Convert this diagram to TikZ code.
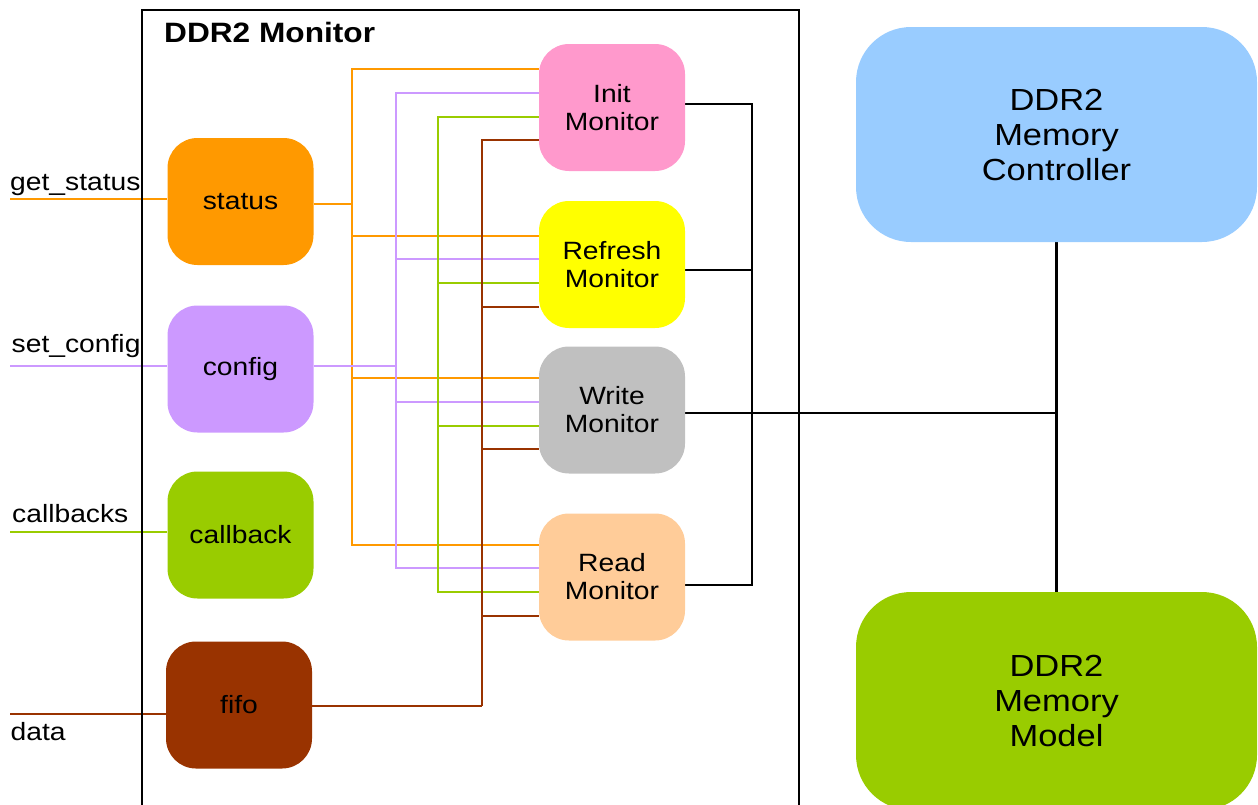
\documentclass[tikz,border=0pt]{standalone}
\usepackage{fontspec}
\setmainfont[FakeStretch=1.13]{Liberation Sans}
\usetikzlibrary{backgrounds}
\definecolor{cor}{HTML}{FF9900}
\definecolor{cpu}{HTML}{CC99FF}
\definecolor{cgr}{HTML}{99CC00}
\definecolor{cbr}{HTML}{993300}
\definecolor{cpk}{HTML}{FF99CC}
\definecolor{cye}{HTML}{FFFF00}
\definecolor{cgy}{HTML}{C0C0C0}
\definecolor{cpe}{HTML}{FFCC99}
\definecolor{cbl}{HTML}{99CCFF}
\begin{document}
\begin{tikzpicture}[x=1pt,y=-1pt,
  blk/.style={rectangle, rounded corners=30pt, minimum width=146pt, minimum height=127pt, inner sep=0pt, align=center, font=\fontsize{25}{28}\selectfont},
  big/.style={rectangle, rounded corners=55pt, minimum width=401pt, inner sep=0pt, align=center, font=\fontsize{30.5}{35}\selectfont},
  lbl/.style={anchor=base west, inner sep=0pt, font=\fontsize{25}{28}\selectfont},
  wire/.style={line width=2.4pt},
  kwire/.style={line width=2.7pt, draw=black},
  frame/.style={line width=2.7pt, draw=black}]
\useasboundingbox (0,0) rectangle (1258,804);
\clip (0,0) rectangle (1258,804);

% bus coordinates
\coordinate (o1) at (352,69);  \coordinate (o2) at (352,236); \coordinate (o3) at (352,378); \coordinate (o4) at (352,545); \coordinate (os) at (352,204);
\coordinate (p1) at (396,93);  \coordinate (p2) at (396,259); \coordinate (p3) at (396,402); \coordinate (p4) at (396,568); \coordinate (pc) at (396,366);
\coordinate (g1) at (438,117); \coordinate (g2) at (438,283); \coordinate (g3) at (438,426); \coordinate (g4) at (438,592);
\coordinate (b1) at (482,140); \coordinate (b2) at (482,307); \coordinate (b3) at (482,449); \coordinate (b4) at (482,616); \coordinate (bf) at (482,706);
\coordinate (k1) at (752,104); \coordinate (k2) at (752,270); \coordinate (k3) at (752,413); \coordinate (k4) at (752,585);
\coordinate (iS) at (10,199); \coordinate (iC) at (10,366); \coordinate (iB) at (10,532); \coordinate (iD) at (10,714);
\coordinate (fTL) at (142,10); \coordinate (fTR) at (799,10); \coordinate (fBL) at (142,812); \coordinate (fBR) at (799,812);

% nodes
\path
  (240.5,201.5) node[blk, fill=cor] (status) {status}
  (240.5,369) node[blk, fill=cpu] (config) {config}
  (240.5,535) node[blk, fill=cgr] (callback) {callback}
  (239,705) node[blk, fill=cbr] (fifo) {fifo}
  (612,107.5) node[blk, fill=cpk] (init) {Init\\Monitor}
  (612,264.5) node[blk, fill=cye] (refresh) {Refresh\\Monitor}
  (612,410) node[blk, fill=cgy] (write) {Write\\Monitor}
  (612,577) node[blk, fill=cpe] (read) {Read\\Monitor}
  (1056.5,134.5) node[big, fill=cbl, minimum height=215pt] (ctrl) {DDR2\\Memory\\Controller}
  (1056.5,701) node[big, fill=cgr, minimum height=218pt] (model) {DDR2\\Memory\\Model};

% labels
\node[lbl, fill=white] (lstatus) at (10,190) {get\_status};
\node[lbl] (lconfig) at (11.5,352) {set\_config};
\node[lbl] (lcb) at (12,522) {callbacks};
\node[lbl] (ldata) at (10.5,740) {data};
\node[anchor=base west, inner sep=0pt, font=\fontsize{28}{30}\selectfont\bfseries] (title) at (164,42) {DDR2 Monitor};

\begin{pgfonlayer}{background}
  % orange
  \draw[wire, cor] (iS) -- (iS -| status.west);
  \draw[wire, cor] (status.east |- os) -- (os);
  \draw[wire, cor] (init.west |- o1) -- (o1) -- (o4) -- (read.west |- o4);
  \draw[wire, cor] (refresh.west |- o2) -- (o2);
  \draw[wire, cor] (write.west |- o3) -- (o3);
  % purple
  \draw[wire, cpu] (iC) -- (iC -| config.west);
  \draw[wire, cpu] (config.east |- pc) -- (pc);
  \draw[wire, cpu] (init.west |- p1) -- (p1) -- (p4) -- (read.west |- p4);
  \draw[wire, cpu] (refresh.west |- p2) -- (p2);
  \draw[wire, cpu] (write.west |- p3) -- (p3);
  % green
  \draw[wire, cgr] (iB) -- (iB -| callback.west);
  \draw[wire, cgr] (init.west |- g1) -- (g1) -- (g4) -- (read.west |- g4);
  \draw[wire, cgr] (refresh.west |- g2) -- (g2);
  \draw[wire, cgr] (write.west |- g3) -- (g3);
  % brown
  \draw[wire, cbr] (iD) -- (iD -| fifo.west);
  \draw[wire, cbr] (fifo.east |- bf) -- (bf);
  \draw[wire, cbr] (init.west |- b1) -- (b1) -- (bf);
  \draw[wire, cbr] (refresh.west |- b2) -- (b2);
  \draw[wire, cbr] (write.west |- b3) -- (b3);
  \draw[wire, cbr] (read.west |- b4) -- (b4);
  % black
  \draw[kwire] (init.east |- k1) -- (k1) -- (k4) -- (read.east |- k4);
  \draw[kwire] (refresh.east |- k2) -- (k2);
  \draw[kwire] (write.east |- k3) -- (k3 -| ctrl.south);
  \draw[kwire] (ctrl.south) -- (model.north);
  % monitor frame
  \draw[frame] (fBL) -- (fTL) -- (fTR) -- (fBR);
\end{pgfonlayer}
\end{tikzpicture}
\end{document}
